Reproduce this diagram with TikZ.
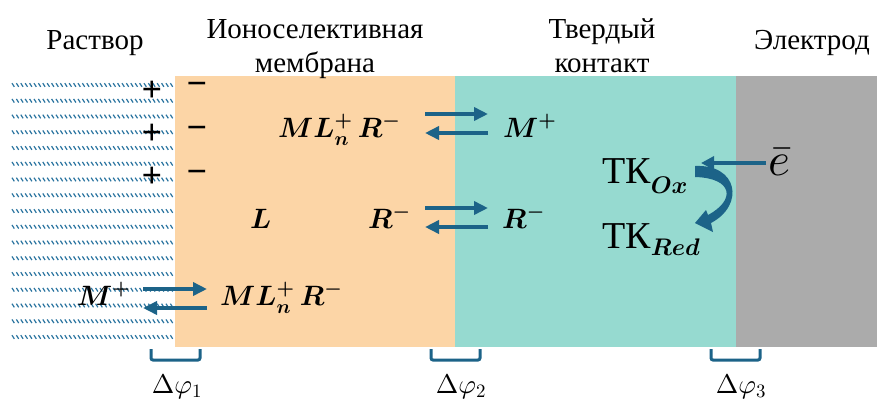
\documentclass[tikz,border=0pt]{standalone}
\usepackage{amsmath}
\usepackage{fontspec}
\setmainfont{Liberation Serif}
\DeclareFontShape{OML}{cmm}{m}{it}{<->cmmi10}{}
\DeclareFontShape{OML}{cmm}{b}{it}{<->cmmib10}{}
\DeclareFontShape{OMS}{cmsy}{m}{n}{<->cmsy10}{}
\DeclareFontShape{OMS}{cmsy}{b}{n}{<->cmbsy10}{}
\DeclareFontShape{OT1}{cmr}{m}{n}{<->cmr10}{}
\DeclareFontShape{OT1}{cmr}{bx}{n}{<->cmbx10}{}
\DeclareFontShape{OMX}{cmex}{m}{n}{<->cmex10}{}
\usetikzlibrary{arrows.meta}
\definecolor{peach}{HTML}{FCD5A6}
\definecolor{tkteal}{HTML}{96DAD0}
\definecolor{elgray}{HTML}{ABABAB}
\definecolor{arrblue}{HTML}{1C6388}
\definecolor{hatchblue}{HTML}{2A74A0}
\newcommand\chemtxt[1]{{\fontsize{28}{32}\selectfont\boldmath$#1$}}
\newcommand\mysub[2]{\raisebox{-#1pt}{\fontsize{24}{28}\selectfont\boldmath$#2$}}
\begin{document}
\begin{tikzpicture}[x=1pt,y=-1pt,
  eqarrow/.style={arrblue, line width=3.5pt, -{Triangle[length=14pt,width=13pt]}},
  hdr/.style={font=\fontsize{29}{34}\selectfont, anchor=base, inner sep=0pt},
  chem/.style={anchor=base west, inner sep=0pt},
  sign/.style={font=\fontsize{36}{40}\selectfont\bfseries, inner sep=0pt},
  tk/.style={font=\fontsize{38}{42}\selectfont, anchor=base west, inner sep=0pt},
  elec/.style={font=\fontsize{47}{50}\selectfont, anchor=base west, inner sep=0pt},
  dphi/.style={font=\fontsize{27}{30}\selectfont, anchor=base, inner sep=0pt},
  brack/.style={arrblue, line width=3pt, rounded corners=2pt}]
\useasboundingbox (0,0) rectangle (877,405);
\fill[white] (0,0) rectangle (877,405);
% regions
\fill[peach] (175,76) rectangle (455,347);
\fill[tkteal] (455,76) rectangle (736,347);
\fill[elgray] (736,76) rectangle (877,347);
% hatch of solution
\foreach \r in {0,...,16}
  \foreach \c in {0,...,36}
    \draw[hatchblue, line width=1.2pt] ({12+4.4*\c},{85+15.75*\r-1.8}) -- ++(2.3,3.6);
% headers
\node[hdr] (h1) at (95,49) {Раствор};
\node[hdr] (h2a) at (315,38) {Ионоселективная};
\node[hdr] (h2b) at (315,72) {мембрана};
\node[hdr] (h3a) at (602,38) {Твердый};
\node[hdr] (h3b) at (602,72) {контакт};
\node[hdr] (h4) at (812,49) {Электрод};
% charges
\node[sign] (p1) at (152,91) {+};
\node[sign] (p2) at (152,134) {+};
\node[sign] (p3) at (152,177) {+};
\node[sign] (m1) at (197,89) {−};
\node[sign] (m2) at (197,133) {−};
\node[sign] (m3) at (197,177) {−};
% row 1
\node[chem] (c1a) at (278,137) {\chemtxt{ML_n^+\,R^-}};
\node[chem] (c1b) at (503,137) {\chemtxt{M^+}};
\coordinate (r1a) at (425,114); \coordinate (r1b) at (488,114);
\coordinate (l1a) at (488,133); \coordinate (l1b) at (425,133);
\draw[eqarrow] (r1a) -- (r1b);
\draw[eqarrow] (l1a) -- (l1b);
% row 2
\node[chem] (c2l) at (250,228) {\chemtxt{L}};
\node[chem] (c2a) at (368,228) {\chemtxt{R^-}};
\node[chem] (c2b) at (502,228) {\chemtxt{R^-}};
\coordinate (r2a) at (425,208); \coordinate (r2b) at (488,208);
\coordinate (l2a) at (488,227); \coordinate (l2b) at (425,227);
\draw[eqarrow] (r2a) -- (r2b);
\draw[eqarrow] (l2a) -- (l2b);
% row 3
\node[chem] (c3a) at (77,305) {\chemtxt{M^+}};
\node[chem] (c3b) at (220,305) {\chemtxt{ML_n^+\,R^-}};
\coordinate (r3a) at (143,289); \coordinate (r3b) at (207,289);
\coordinate (l3a) at (207,308); \coordinate (l3b) at (143,308);
\draw[eqarrow] (r3a) -- (r3b);
\draw[eqarrow] (l3a) -- (l3b);
% solid contact
\node[tk] (tkox) at (602,183) {ТК\mysub{10}{Ox}};
\node[tk] (tkred) at (602,248) {ТК\mysub{7}{Red}};
\node[elec] (el) at (768,175) {$\bar{e}$};
\coordinate (ea) at (766,163); \coordinate (eb) at (701,163);
\draw[arrblue, line width=3.3pt, -{Triangle[length=13pt,width=13pt]}] (ea) -- (eb);
\fill[arrblue] (695,166) .. controls (738,164) and (745,205) .. (711,223)
  -- (713,232) -- (695,223) -- (706,210) -- (708,215)
  .. controls (736,200) and (733,178) .. (695,177) -- cycle;
% brackets
\draw[brack] (151,349) -- (151,360) -- (200,360) -- (200,349);
\draw[brack] (431,349) -- (431,360) -- (480,360) -- (480,349);
\draw[brack] (711,349) -- (711,360) -- (760,360) -- (760,349);
\node[dphi] (d1) at (177,393) {$\Delta\varphi_1$};
\node[dphi] (d2) at (461,393) {$\Delta\varphi_2$};
\node[dphi] (d3) at (741,393) {$\Delta\varphi_3$};
\end{tikzpicture}
\end{document}
